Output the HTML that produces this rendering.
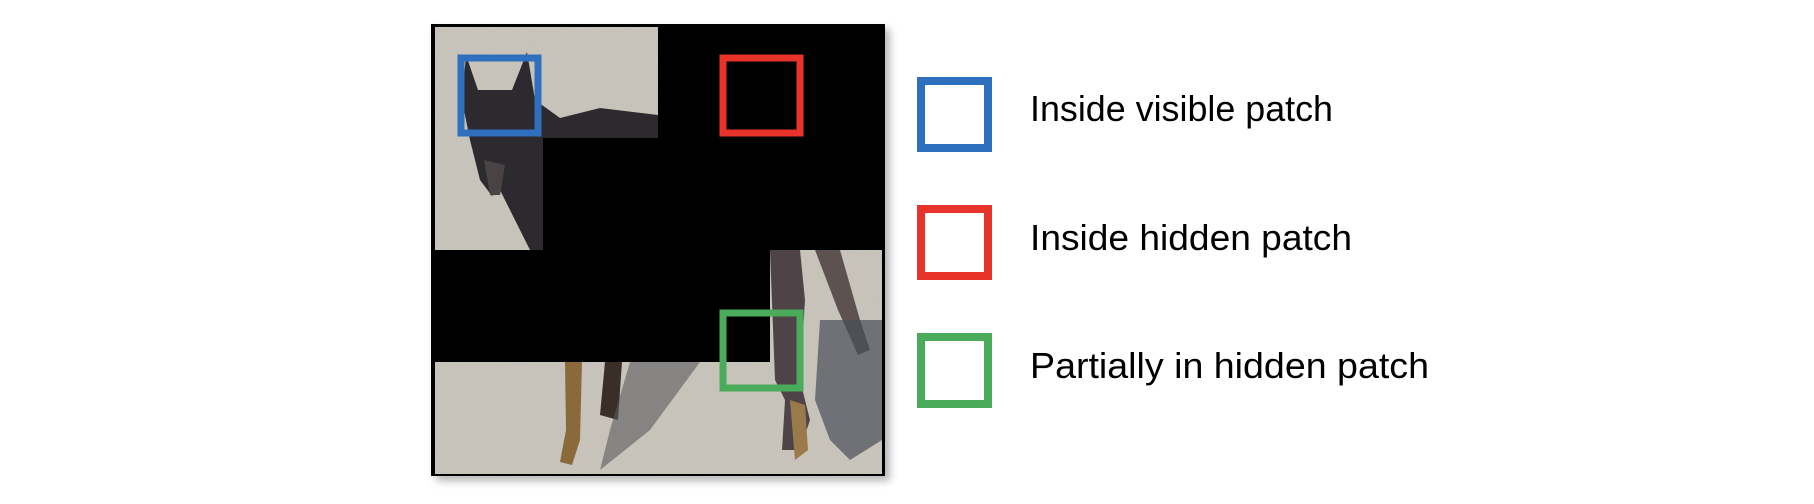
<!DOCTYPE html>
<html><head><meta charset="utf-8"><style>
html,body{margin:0;padding:0;background:#fff;width:1814px;height:504px;overflow:hidden}
svg{display:block}
text{font-family:"Liberation Sans",sans-serif;fill:#000}
</style></head><body>
<svg width="1814" height="504" viewBox="0 0 1814 504">
<defs>
<filter id="shadow" x="-10%" y="-10%" width="125%" height="125%"><feGaussianBlur stdDeviation="4"/></filter>
<filter id="grain" x="0" y="0" width="1" height="1"><feTurbulence type="fractalNoise" baseFrequency="0.35" numOctaves="2" seed="3"/><feColorMatrix type="matrix" values="0 0 0 0 0.55  0 0 0 0 0.53  0 0 0 0 0.5  0 0 0 -1.4 1.0"/></filter>
<clipPath id="vis"><path d="M435 27H658V138H543V250H435Z M435 362H770V250H882V474H435Z"/></clipPath>
</defs>
<g>
<rect x="436" y="29" width="454" height="452" fill="#888" opacity="0.6" filter="url(#shadow)"/>
<rect x="431" y="24" width="454" height="452" fill="#000"/>
<g clip-path="url(#vis)">
<rect x="435" y="27" width="447" height="447" fill="#c8c4bb"/>
<rect x="435" y="27" width="447" height="447" filter="url(#grain)" opacity="0.6"/>
<path d="M466 55 L478 90 L512 90 L527 52 L535 100 L560 118 L600 108 L658 115 L658 138 L543 138 L543 250 L530 250 L510 210 L500 190 L492 196 L480 180 L470 140 L462 100 Z" fill="#2c2a2e"/>
<path d="M484 160 L505 165 L500 195 L490 195 Z" fill="#4a4343"/>
<path d="M565 362 L582 362 L580 440 L572 465 L560 462 L566 430 Z" fill="#8a6a3a"/>
<path d="M605 362 L622 362 L618 420 L600 415 Z" fill="#3a2f28"/>
<path d="M630 362 L700 362 L650 430 L600 470 L610 430 Z" fill="#5a5a5e" opacity="0.6"/>
<path d="M770 250 L800 250 L805 300 L800 380 L810 420 L800 450 L782 450 L785 400 L775 380 Z" fill="#4e4448"/>
<path d="M815 250 L840 250 L860 320 L870 350 L858 355 L838 310 Z" fill="#5c5250"/>
<path d="M820 320 L882 320 L882 440 L850 460 L830 440 L815 400 Z" fill="#4a4e58" opacity="0.7"/>
<path d="M790 400 L805 405 L808 450 L795 460 Z" fill="#9a7a4a"/>
</g>
<rect x="461" y="58" width="77" height="75" fill="none" stroke="#2f70be" stroke-width="7"/>
<rect x="723" y="58" width="77" height="75" fill="none" stroke="#e8332a" stroke-width="7"/>
<rect x="723" y="313" width="77" height="75" fill="none" stroke="#4aab5a" stroke-width="7"/>
</g>
<g>
<g>
<rect x="921" y="81" width="67" height="67" fill="#fff" stroke="#2f70be" stroke-width="8"/>
<text x="1030" y="121" font-size="36" textLength="303" lengthAdjust="spacingAndGlyphs">Inside visible patch</text>
</g>
<g>
<rect x="921" y="209" width="67" height="67" fill="#fff" stroke="#e8332a" stroke-width="8"/>
<text x="1030" y="250" font-size="36" textLength="322" lengthAdjust="spacingAndGlyphs">Inside hidden patch</text>
</g>
<g>
<rect x="921" y="337" width="67" height="67" fill="#fff" stroke="#4aab5a" stroke-width="8"/>
<text x="1030" y="378" font-size="36" textLength="399" lengthAdjust="spacingAndGlyphs">Partially in hidden patch</text>
</g>
</g>
</svg>
</body></html>
